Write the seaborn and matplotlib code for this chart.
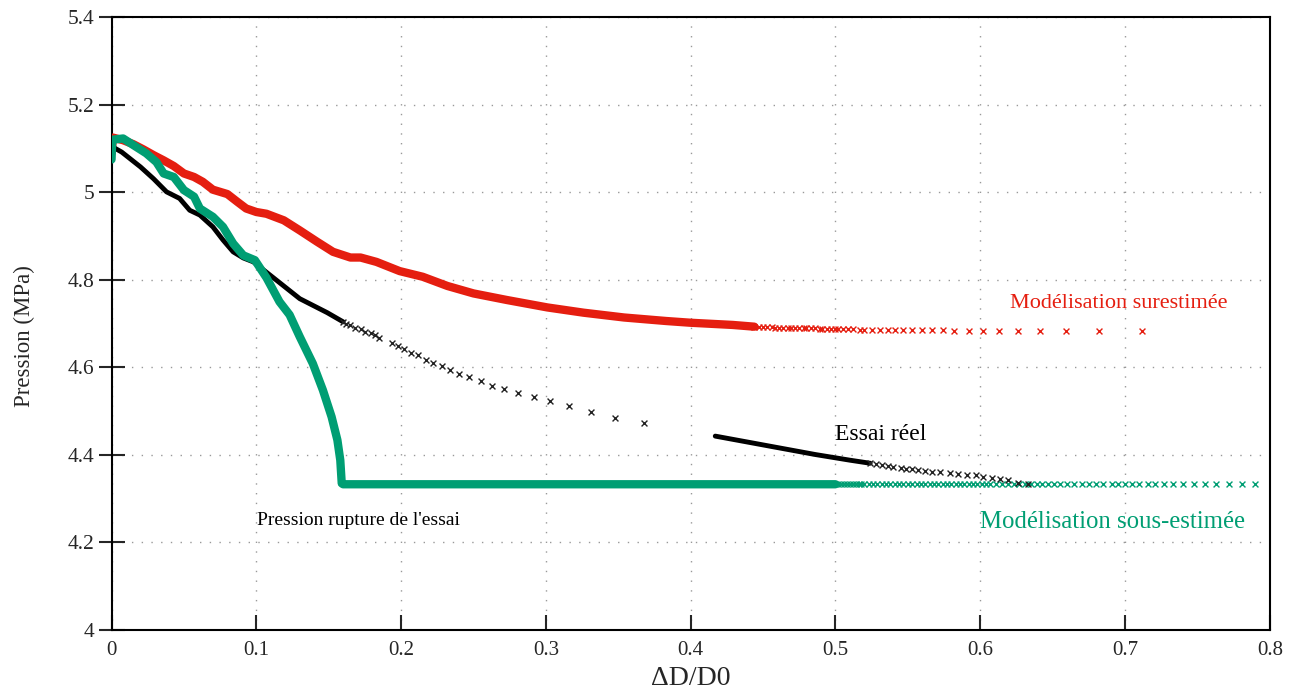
import matplotlib
matplotlib.use("Agg")
import matplotlib.pyplot as plt
import seaborn as sns

# Courbe "Modélisation surestimée" (partie dense)
red_x = [0.0, 0.001, 0.008, 0.015, 0.022, 0.029, 0.036, 0.043, 0.050, 0.057, 0.063, 0.070,
         0.080, 0.087, 0.093, 0.100, 0.107, 0.119, 0.130, 0.142, 0.153, 0.165, 0.172, 0.183,
         0.199, 0.215, 0.232, 0.250, 0.273, 0.301, 0.326, 0.354, 0.383, 0.400, 0.429, 0.444]
red_y = [5.09, 5.125, 5.119, 5.110, 5.098, 5.085, 5.073, 5.060, 5.043, 5.035, 5.024, 5.006,
         4.996, 4.978, 4.963, 4.955, 4.951, 4.936, 4.913, 4.887, 4.864, 4.851, 4.851, 4.841,
         4.820, 4.807, 4.786, 4.769, 4.754, 4.737, 4.725, 4.714, 4.706, 4.702, 4.697, 4.693]
# points espacés en fin de courbe
red_tail_x = [0.444, 0.447, 0.450, 0.453, 0.456, 0.458, 0.461, 0.464, 0.467, 0.469,
              0.472, 0.475, 0.478, 0.480, 0.483, 0.486, 0.489, 0.491, 0.494, 0.497,
              0.500, 0.502, 0.505, 0.509, 0.512, 0.517, 0.520, 0.525, 0.531, 0.536,
              0.541, 0.547, 0.553, 0.560, 0.567, 0.574, 0.582, 0.592, 0.602, 0.613,
              0.626, 0.641, 0.659, 0.682, 0.712]
red_tail_y = [4.693, 4.693, 4.692, 4.692, 4.692, 4.691, 4.691, 4.691, 4.690, 4.690,
              4.690, 4.690, 4.689, 4.689, 4.689, 4.689, 4.688, 4.688, 4.688, 4.688,
              4.687, 4.687, 4.687, 4.687, 4.687, 4.686, 4.686, 4.686, 4.686, 4.686,
              4.685, 4.685, 4.685, 4.685, 4.685, 4.685, 4.684, 4.684, 4.684, 4.684,
              4.683, 4.683, 4.683, 4.683, 4.683]

# Courbe "Modélisation sous-estimée"
green_x = [0.0, 0.0005, 0.008, 0.015, 0.024, 0.031, 0.036, 0.043, 0.050, 0.057, 0.061, 0.070,
           0.077, 0.084, 0.091, 0.099, 0.107, 0.116, 0.123, 0.130, 0.139, 0.146, 0.152,
           0.156, 0.158, 0.159, 0.160, 0.300, 0.500]
green_y = [5.075, 5.12, 5.123, 5.108, 5.089, 5.069, 5.043, 5.035, 5.005, 4.990, 4.963, 4.944,
           4.921, 4.883, 4.856, 4.845, 4.805, 4.750, 4.720, 4.670, 4.609, 4.548, 4.487,
           4.434, 4.388, 4.335, 4.333, 4.333, 4.333]
green_tail_x = [0.500, 0.502, 0.504, 0.506, 0.508, 0.510, 0.512, 0.514, 0.516, 0.518,
                0.520, 0.523, 0.526, 0.529, 0.532, 0.535, 0.538, 0.541, 0.544, 0.547,
                0.550, 0.553, 0.556, 0.559, 0.562, 0.565, 0.568, 0.571, 0.574, 0.577,
                0.580, 0.583, 0.586, 0.589, 0.592, 0.595, 0.598, 0.601, 0.604, 0.607,
                0.611, 0.615, 0.619, 0.623, 0.627, 0.631, 0.635, 0.639, 0.643, 0.647,
                0.651, 0.655, 0.660, 0.665, 0.670, 0.675, 0.680, 0.685, 0.691, 0.695,
                0.700, 0.705, 0.710, 0.716, 0.721, 0.727, 0.733, 0.740, 0.748, 0.755,
                0.763, 0.772, 0.781, 0.790]
green_tail_y = [4.333] * len(green_tail_x)

# Essai réel, premier tronçon
black_x = [0.0, 0.007, 0.020, 0.029, 0.038, 0.047, 0.054, 0.061, 0.070, 0.077, 0.084,
           0.091, 0.098, 0.114, 0.130, 0.149, 0.160]
black_y = [5.105, 5.092, 5.058, 5.031, 5.001, 4.986, 4.959, 4.948, 4.921, 4.891, 4.864,
           4.850, 4.841, 4.799, 4.757, 4.725, 4.704]
black_tail_x = [0.160, 0.162, 0.165, 0.168, 0.172, 0.175, 0.179, 0.182, 0.185, 0.194,
                0.198, 0.202, 0.207, 0.212, 0.217, 0.222, 0.228, 0.234, 0.240, 0.247,
                0.255, 0.263, 0.271, 0.281, 0.292, 0.303, 0.316, 0.331, 0.348, 0.368]
black_tail_y = [4.704, 4.700, 4.697, 4.691, 4.687, 4.681, 4.678, 4.674, 4.668, 4.656,
                4.650, 4.642, 4.634, 4.628, 4.617, 4.611, 4.604, 4.594, 4.586, 4.578,
                4.569, 4.558, 4.551, 4.541, 4.532, 4.523, 4.511, 4.499, 4.485, 4.473]

# Essai réel, second tronçon
black2_x = [0.417, 0.440, 0.462, 0.486, 0.510, 0.524]
black2_y = [4.443, 4.429, 4.4156, 4.401, 4.388, 4.381]
black2_tail_x = [0.524, 0.528, 0.532, 0.536, 0.540, 0.545, 0.549, 0.553, 0.557, 0.562,
                 0.567, 0.572, 0.579, 0.585, 0.591, 0.597, 0.602, 0.608, 0.614, 0.619,
                 0.626, 0.633]
black2_tail_y = [4.381, 4.379, 4.377, 4.375, 4.373, 4.371, 4.369, 4.367, 4.365, 4.363,
                 4.362, 4.360, 4.358, 4.356, 4.354, 4.354, 4.350, 4.348, 4.345, 4.342,
                 4.336, 4.333]

x_ticks = [0, 0.1, 0.2, 0.3, 0.4, 0.5, 0.6, 0.7, 0.8]
x_labels = ["0", "0.1", "0.2", "0.3", "0.4", "0.5", "0.6", "0.7", "0.8"]
y_ticks = [4, 4.2, 4.4, 4.6, 4.8, 5, 5.2, 5.4]
y_labels = ["4", "4.2", "4.4", "4.6", "4.8", "5", "5.2", "5.4"]

RED = "#e51e10"
GREEN = "#009e73"

sns.set_style("ticks")
plt.rcParams["font.family"] = ["Liberation Serif", "DejaVu Serif"]

fig, ax = plt.subplots(figsize=(12.97, 6.89), dpi=100)
fig.subplots_adjust(left=0.086, right=0.979, bottom=0.0856, top=0.975)

ax.grid(True, color="#999999", linestyle=(0, (1, 6)), linewidth=1.0)

# courbes
sns.lineplot(x=red_x, y=red_y, sort=False, estimator=None, color=RED, linewidth=6, ax=ax, zorder=3)
sns.scatterplot(x=red_tail_x, y=red_tail_y, marker="x", color=RED, s=18, linewidth=1.0, ax=ax, zorder=3)

sns.lineplot(x=black_x, y=black_y, sort=False, estimator=None, color="black", linewidth=3.5, ax=ax, zorder=4)

sns.lineplot(x=green_x, y=green_y, sort=False, estimator=None, color=GREEN, linewidth=6, ax=ax, zorder=5)
sns.scatterplot(x=green_tail_x, y=green_tail_y, marker="x", color=GREEN, s=18, linewidth=1.0, ax=ax, zorder=5)

sns.scatterplot(x=black_tail_x, y=black_tail_y, marker="x", color="#222222", s=18, linewidth=1.0, ax=ax, zorder=6)
sns.lineplot(x=black2_x, y=black2_y, sort=False, estimator=None, color="black", linewidth=3.5, ax=ax, zorder=6)
sns.scatterplot(x=black2_tail_x, y=black2_tail_y, marker="x", color="#222222", s=18, linewidth=1.0, ax=ax, zorder=6)

# annotations
ax.text(0.6205, 4.747, "Modélisation surestimée", color=RED, fontsize=16, va="center", ha="left")
ax.text(0.5998, 4.247, "Modélisation sous-estimée", color=GREEN, fontsize=17.8, va="center", ha="left")
ax.text(0.4997, 4.447, "Essai réel", color="black", fontsize=17, va="center", ha="left")
ax.text(0.1005, 4.250, "Pression rupture de l'essai", color="black", fontsize=14, va="center", ha="left")

ax.set_xlim(0, 0.8)
ax.set_ylim(4, 5.4)
ax.set_xticks(x_ticks)
ax.set_xticklabels(x_labels)
ax.set_yticks(y_ticks)
ax.set_yticklabels(y_labels)
ax.tick_params(axis="y", direction="inout", length=19, width=1.5, labelsize=15.5, pad=3)
ax.tick_params(axis="x", direction="in", length=11, width=1.5, labelsize=15, pad=8)
for side in ["left", "right", "top", "bottom"]:
    ax.spines[side].set_linewidth(1.5)
    ax.spines[side].set_color("black")

ax.set_xlabel("ΔD/D0", fontsize=20)
ax.set_ylabel("Pression (MPa)", fontsize=16.5)
ax.xaxis.set_label_coords(0.5, -0.058)
ax.yaxis.set_label_coords(-0.066, 0.48)

fig.savefig("out.png", dpi=100)
